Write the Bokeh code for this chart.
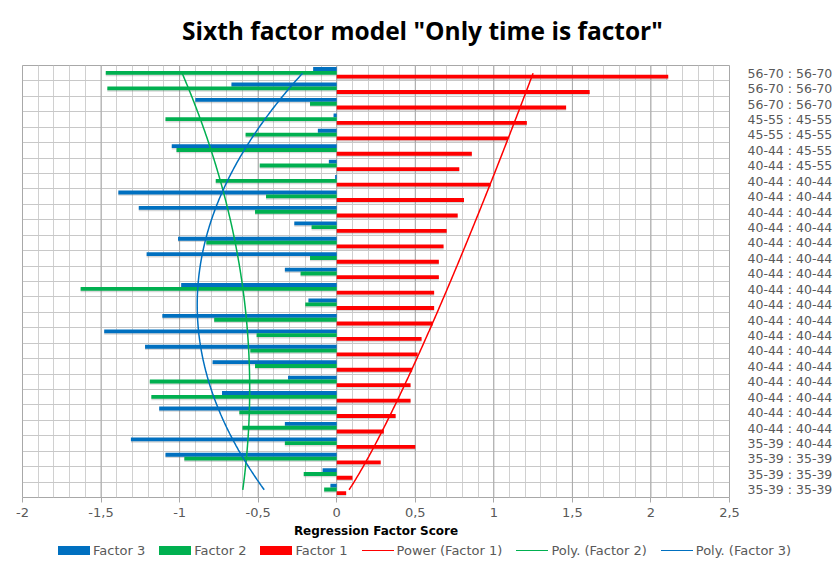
import numpy as np
from bokeh.plotting import figure
from bokeh.layouts import column
from bokeh.models import FixedTicker, Range1d, Div
from bokeh.embed import file_html
from bokeh.resources import INLINE

# ---- data (listed top row -> bottom row, as displayed) ----
categories = [
    "56-70 : 56-70", "56-70 : 56-70", "56-70 : 56-70",
    "45-55 : 45-55", "45-55 : 45-55",
    "40-44 : 45-55", "40-44 : 45-55",
    "40-44 : 40-44", "40-44 : 40-44", "40-44 : 40-44", "40-44 : 40-44",
    "40-44 : 40-44", "40-44 : 40-44", "40-44 : 40-44", "40-44 : 40-44",
    "40-44 : 40-44", "40-44 : 40-44", "40-44 : 40-44", "40-44 : 40-44",
    "40-44 : 40-44", "40-44 : 40-44", "40-44 : 40-44", "40-44 : 40-44",
    "40-44 : 40-44",
    "35-39 : 40-44", "35-39 : 35-39", "35-39 : 35-39", "35-39 : 35-39",
]
factor1 = [2.11, 1.61, 1.46, 1.21, 1.09, 0.86, 0.78, 0.98, 0.81, 0.77,
           0.70, 0.68, 0.65, 0.65, 0.62, 0.62, 0.61, 0.54, 0.515, 0.48,
           0.47, 0.47, 0.375, 0.30, 0.50, 0.28, 0.10, 0.06]
factor2 = [-1.47, -1.46, -0.17, -1.09, -0.58, -1.02, -0.49, -0.77, -0.45, -0.52,
           -0.16, -0.83, -0.17, -0.23, -1.63, -0.20, -0.78, -0.51, -0.55, -0.52,
           -1.19, -1.18, -0.62, -0.60, -0.33, -0.97, -0.21, -0.08]
factor3 = [-0.15, -0.67, -0.90, -0.02, -0.12, -1.05, -0.05, -0.01, -1.39, -1.26,
           -0.27, -1.01, -1.21, -0.33, -0.99, -0.18, -1.11, -1.48, -1.22, -0.79,
           -0.31, -0.73, -1.13, -0.33, -1.31, -1.09, -0.09, -0.04]
x_ticks = [-2, -1.5, -1, -0.5, 0, 0.5, 1, 1.5, 2, 2.5]
x_tick_labels = ["-2", "-1,5", "-1", "-0,5", "0", "0,5", "1", "1,5", "2", "2,5"]
legend_labels = ["Factor 3", "Factor 2", "Factor 1",
                 "Power (Factor 1)", "Poly. (Factor 2)", "Poly. (Factor 3)"]
title_text = 'Sixth factor model "Only time is factor"'

BLUE = "#0070C0"
GREEN = "#00B050"
RED = "#FF0000"
FONT = "DejaVu Sans"

n = len(categories)
pos = np.array([n - i for i in range(n)], dtype=float)  # top row -> n, bottom row -> 1

# ---- title (HTML text above the plot) ----
title_div = Div(
    text=('<div style="font-family:\'Open Sans\';font-weight:bold;font-size:24.5px;'
          'color:#000;white-space:nowrap;padding-left:182px;padding-top:16px;'
          'line-height:30px;">%s</div>' % title_text.replace('"', '&quot;')),
    width=835, height=46, margin=0)

p = figure(width=835, height=496, x_range=Range1d(-2, 2.5), y_range=Range1d(0.5, n + 0.5),
           output_backend="svg", toolbar_location=None, y_axis_location="right",
           min_border_left=22, min_border_right=102, min_border_top=19, min_border_bottom=45,
           background_fill_color="white", border_fill_color="white", margin=0)

# grids
p.xgrid.ticker = FixedTicker(ticks=list(np.round(np.arange(-2, 2.5001, 0.1), 2)))
p.xgrid.grid_line_color = "#D0D0D0"
p.xgrid.grid_line_width = 1
p.ygrid.ticker = FixedTicker(ticks=list(np.arange(0.5, n + 0.51, 1.0)))
p.ygrid.grid_line_color = "#C8C8C8"
for xv in x_ticks:
    p.line([xv, xv], [0.5, n + 0.5], line_color="#A8A8A8", line_width=1)
p.outline_line_color = "#A8A8A8"

# bars (with a soft drop shadow like the original)
offsets = [(factor3, 0.27, BLUE), (factor2, 0.02, GREEN), (factor1, -0.22, RED)]
for vals, off, col in offsets:
    p.hbar(y=pos + off - 0.09, left=0, right=vals, height=0.25,
           fill_color="#7F7F7F", fill_alpha=0.3, line_color=None)
for vals, off, col in offsets:
    p.hbar(y=pos + off, left=0, right=vals, height=0.25, fill_color=col, line_color=None)

# trendlines fitted on category index (1 = bottom)
k = np.arange(1, n + 1, dtype=float)
f1 = np.array(factor1)[::-1]
f2 = np.array(factor2)[::-1]
f3 = np.array(factor3)[::-1]
kk = np.linspace(1, n, 200)
b, lna = np.polyfit(np.log(k), np.log(f1), 1)
p.line(np.exp(lna) * kk ** b, kk, line_color=RED, line_width=1.5)
c2 = np.polyfit(k, f2, 2)
p.line(np.polyval(c2, kk), kk, line_color=GREEN, line_width=1.5)
c3 = np.polyfit(k, f3, 2)
p.line(np.polyval(c3, kk), kk, line_color=BLUE, line_width=1.5)

# x axis
xa = p.xaxis[0]
xa.ticker = FixedTicker(ticks=x_ticks)
xa.major_label_overrides = {t: l for t, l in zip(x_ticks, x_tick_labels)}
xa.axis_label = "Regression Factor Score"
xa.axis_label_text_font = FONT
xa.axis_label_text_font_style = "bold"
xa.axis_label_text_font_size = "12px"
xa.axis_label_text_color = "#000000"
xa.axis_label_standoff = 4
xa.major_label_text_font = FONT
xa.major_label_text_font_size = "13px"
xa.major_label_text_color = "#595959"
xa.major_label_standoff = 5
xa.axis_line_color = None
xa.major_tick_line_color = "#A8A8A8"
xa.major_tick_out = 5
xa.major_tick_in = 0
xa.minor_tick_line_color = None

# y axis (right)
ya = p.yaxis[0]
ya.ticker = FixedTicker(ticks=list(pos))
ya.major_label_overrides = {float(v): c for v, c in zip(pos, categories)}
ya.major_label_text_font = FONT
ya.major_label_text_font_size = "12.5px"
ya.major_label_text_color = "#595959"
ya.major_label_standoff = 12
ya.axis_line_color = None
ya.major_tick_line_color = None
ya.minor_tick_line_color = None

# ---- legend (HTML strip below the plot) ----
swatches = [
    ("box", BLUE), ("box", GREEN), ("box", RED),
    ("line", RED), ("line", GREEN), ("line", BLUE),
]
parts = []
for (kind, col), lab in zip(swatches, legend_labels):
    if kind == "box":
        sw = ('<span style="display:inline-block;width:32px;height:9px;background:%s;'
              'vertical-align:middle;margin-right:3px;"></span>' % col)
    else:
        sw = ('<span style="display:inline-block;width:32px;height:0;border-top:1.5px solid %s;'
              'vertical-align:middle;margin-right:3px;"></span>' % col)
    parts.append(sw + '<span style="vertical-align:middle;margin-right:14px;">%s</span>' % lab)
legend_div = Div(
    text=('<div style="font-family:\'DejaVu Sans\';font-size:13px;color:#595959;'
          'white-space:nowrap;padding-left:58px;line-height:14px;">%s</div>' % "".join(parts)),
    width=835, height=22, margin=0)

layout = column(title_div, p, legend_div, spacing=0)
open("out.html", "w").write(file_html(layout, INLINE))
